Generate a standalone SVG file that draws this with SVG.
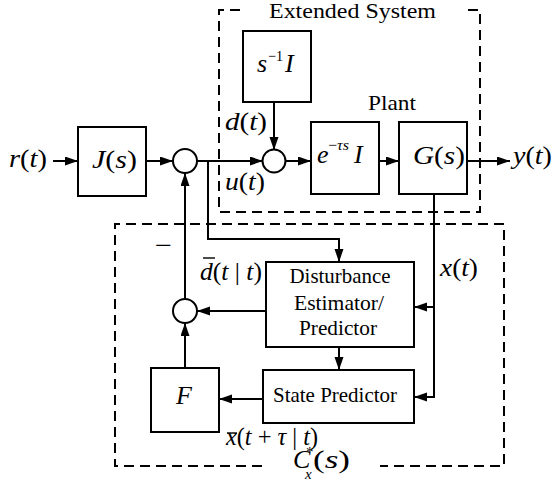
<svg xmlns="http://www.w3.org/2000/svg" width="556" height="484" viewBox="0 0 556 484" font-family="Liberation Serif, serif">
<style>
.box{fill:#fff;stroke:#000;stroke-width:2}
.sum{fill:#fff;stroke:#000;stroke-width:2}
.ln{fill:none;stroke:#000;stroke-width:2}
.dash{fill:none;stroke:#000;stroke-width:2;stroke-dasharray:10,6}
.bar{stroke:#000;stroke-width:1.4}
.t{font-size:21px}
.m{font-size:26px}
.i{font-style:italic}
.sup{font-size:15px}
</style>
<defs>
<marker id="ah" markerUnits="userSpaceOnUse" markerWidth="14" markerHeight="10" refX="13" refY="4.5" orient="auto">
<path d="M0,0 L13,4.5 L0,9 z" fill="#000"/>
</marker>
</defs>
<rect width="556" height="484" fill="#fff"/>

<g id="extended-system">
<path class="dash" d="M240,10 H219 V212 H480 V10 H467"/>
<text class="t" x="269" y="18" textLength="167" lengthAdjust="spacingAndGlyphs">Extended System</text>
</g>
<g id="controller-box">
<path class="dash" d="M262,466 H115 V224 H504 V466 H380"/>
<text class="m i" x="293" y="468">C</text>
<text class="sup" x="306" y="457">*</text>
<text class="sup i" x="305" y="479">x</text>
<text class="m" x="313" y="468" textLength="37" lengthAdjust="spacingAndGlyphs">(<tspan class="i">s</tspan>)</text>
</g>

<g id="connectors">
<line class="ln" x1="53" y1="161" x2="78" y2="161" marker-end="url(#ah)"/>
<line class="ln" x1="146" y1="161" x2="173" y2="161" marker-end="url(#ah)"/>
<line class="ln" x1="197" y1="161" x2="263" y2="161" marker-end="url(#ah)"/>
<polyline class="ln" points="208,161 208,239 339,239 339,262" marker-end="url(#ah)"/>
<line class="ln" x1="274" y1="102" x2="274" y2="150" marker-end="url(#ah)"/>
<line class="ln" x1="285" y1="161" x2="311" y2="161" marker-end="url(#ah)"/>
<line class="ln" x1="379" y1="161" x2="399" y2="161" marker-end="url(#ah)"/>
<line class="ln" x1="467" y1="161" x2="510" y2="161" marker-end="url(#ah)"/>
<polyline class="ln" points="434,194 434,397 414,397" marker-end="url(#ah)"/>
<line class="ln" x1="434" y1="307" x2="414" y2="307" marker-end="url(#ah)"/>
<line class="ln" x1="339" y1="347" x2="339" y2="370" marker-end="url(#ah)"/>
<line class="ln" x1="266" y1="311" x2="197" y2="311" marker-end="url(#ah)"/>
<line class="ln" x1="263" y1="399" x2="219" y2="399" marker-end="url(#ah)"/>
<line class="ln" x1="185" y1="368" x2="185" y2="323" marker-end="url(#ah)"/>
<line class="ln" x1="185" y1="299" x2="185" y2="173" marker-end="url(#ah)"/>
</g>

<g id="labels">
<text class="m" x="9" y="167" textLength="38" lengthAdjust="spacingAndGlyphs"><tspan class="i">r</tspan>(<tspan class="i">t</tspan>)</text>
<text class="m" x="225" y="130" textLength="42" lengthAdjust="spacingAndGlyphs"><tspan class="i">d</tspan>(<tspan class="i">t</tspan>)</text>
<text class="m" x="225" y="190" textLength="40" lengthAdjust="spacingAndGlyphs"><tspan class="i">u</tspan>(<tspan class="i">t</tspan>)</text>
<text class="m" x="513" y="164" textLength="39" lengthAdjust="spacingAndGlyphs"><tspan class="i">y</tspan>(<tspan class="i">t</tspan>)</text>
<text class="m" x="440" y="276" textLength="38" lengthAdjust="spacingAndGlyphs"><tspan class="i">x</tspan>(<tspan class="i">t</tspan>)</text>
<text class="m" x="200" y="280" textLength="62" lengthAdjust="spacingAndGlyphs"><tspan class="i">d</tspan>(<tspan class="i">t</tspan> | <tspan class="i">t</tspan>)</text>
<line class="bar" x1="203" y1="258" x2="215" y2="258"/>
<text class="m" x="226" y="445" textLength="92" lengthAdjust="spacingAndGlyphs"><tspan class="i">x</tspan>(<tspan class="i">t</tspan> + <tspan class="i">τ</tspan> | <tspan class="i">t</tspan>)</text>
<line class="bar" x1="227" y1="433" x2="237" y2="433"/>
<text class="m" x="155" y="254" textLength="17" lengthAdjust="spacingAndGlyphs">−</text>
<text class="t" x="368" y="110" textLength="48" lengthAdjust="spacingAndGlyphs">Plant</text>
</g>

<g id="J">
<rect class="box" x="78" y="127" width="68" height="69"/>
<text class="m" x="92" y="168" textLength="45" lengthAdjust="spacingAndGlyphs"><tspan class="i">J</tspan>(<tspan class="i">s</tspan>)</text>
</g>
<g id="sum1"><circle class="sum" cx="185" cy="161" r="12"/></g>
<g id="sum2"><circle class="sum" cx="274" cy="161" r="11.5"/></g>
<g id="sum3"><circle class="sum" cx="185" cy="311" r="12"/></g>
<g id="integrator">
<rect class="box" x="243" y="31" width="68" height="71"/>
<text class="m i" x="257" y="72">s</text>
<text class="sup" x="268" y="61" textLength="15" lengthAdjust="spacingAndGlyphs">−1</text>
<text class="m i" x="285" y="72">I</text>
</g>
<g id="delay">
<rect class="box" x="311" y="122" width="68" height="72"/>
<text class="m i" x="317" y="163">e</text>
<text class="sup" x="328" y="150" textLength="21" lengthAdjust="spacingAndGlyphs">−<tspan class="i">τs</tspan></text>
<text class="m i" x="354" y="163">I</text>
</g>
<g id="G">
<rect class="box" x="399" y="122" width="68" height="72"/>
<text class="m" x="413" y="164" textLength="52" lengthAdjust="spacingAndGlyphs"><tspan class="i">G</tspan>(<tspan class="i">s</tspan>)</text>
</g>
<g id="disturbance-estimator">
<rect class="box" x="266" y="262" width="148" height="85"/>
<text class="t" x="340" y="283" text-anchor="middle" textLength="101" lengthAdjust="spacingAndGlyphs">Disturbance</text>
<text class="t" x="339" y="310" text-anchor="middle" textLength="90" lengthAdjust="spacingAndGlyphs">Estimator/</text>
<text class="t" x="338" y="335" text-anchor="middle" textLength="78" lengthAdjust="spacingAndGlyphs">Predictor</text>
</g>
<g id="state-predictor">
<rect class="box" x="263" y="370" width="151" height="53"/>
<text class="t" x="335" y="402" text-anchor="middle" textLength="124" lengthAdjust="spacingAndGlyphs">State Predictor</text>
</g>
<g id="F">
<rect class="box" x="151" y="368" width="68" height="64"/>
<text class="m i" x="176" y="404">F</text>
</g>
</svg>
